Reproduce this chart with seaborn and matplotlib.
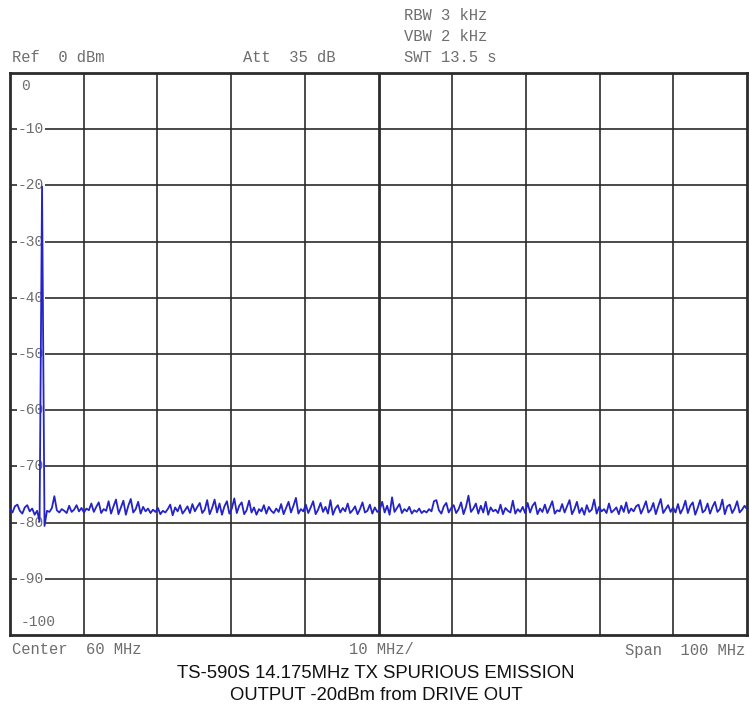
import numpy as np
import pandas as pd
import matplotlib
matplotlib.use("Agg")
import matplotlib.pyplot as plt
import seaborn as sns

# ---- data ----
f_start, f_stop = 10.0, 110.0          # MHz (center 60, span 100)
y_ticks = [0, -10, -20, -30, -40, -50, -60, -70, -80, -90, -100]
y_tick_labels = ["0", "-10", "-20", "-30", "-40", "-50", "-60", "-70", "-80", "-90", "-100"]

level_dbm = [
    -77.6, -78.2, -77.1, -76.8, -77.9, -78.4, -77.3, -76.9, -78.0, -77.5, -78.6, -77.9, -79.8, -20.2, -80.6,
    -77.9, -78.1, -77.4, -75.3, -77.8, -78.2, -77.6, -77.9, -78.3, -77.0, -78.1, -77.7, -76.9, -78.0, -77.4,
    -78.2, -77.5, -77.8, -76.6, -78.1, -77.2, -76.4, -78.3, -77.6, -77.9, -76.2, -78.4, -77.1, -75.9, -78.5,
    -77.3, -76.1, -78.6, -77.0, -75.8, -78.2, -77.6, -76.3, -78.4, -77.2, -78.0, -77.5, -78.3, -77.7, -78.1,
    -77.4, -78.5, -77.9, -78.2, -77.6, -76.8, -78.7, -77.3, -78.0, -76.9, -78.4, -77.8, -77.1, -78.3, -76.7,
    -78.0, -77.2, -76.5, -78.3, -77.7, -76.0, -78.5, -77.4, -75.9, -78.2, -76.6, -78.6, -77.1, -76.2, -78.4,
    -77.5, -75.7, -78.3, -77.0, -76.4, -78.5, -77.8, -76.1, -78.2, -77.3, -78.6, -77.6, -78.0, -76.9, -78.4,
    -77.2, -77.9, -78.3, -77.5, -78.1, -76.7, -78.5, -77.4, -76.3, -78.2, -77.0, -75.6, -78.4, -77.6, -78.0,
    -76.8, -78.3, -77.3, -76.2, -78.5, -77.7, -76.5, -78.1, -77.2, -78.4, -76.0, -78.6, -77.5, -76.9, -78.2,
    -77.4, -78.0, -76.6, -78.3, -77.8, -77.1, -78.5, -77.6, -76.4, -78.2, -77.9, -76.8, -78.4, -77.3, -78.1,
    -77.7, -76.3, -78.2, -77.0, -78.6, -75.5, -78.1, -77.4, -76.7, -78.3, -77.6, -78.0, -77.2, -78.4, -77.8,
    -78.1, -77.5, -78.3, -77.9, -78.2, -77.6, -78.0, -76.2, -76.0, -77.8, -78.4, -77.1, -76.5, -78.2, -77.4,
    -76.9, -78.3, -77.6, -76.4, -78.5, -77.2, -75.2, -78.1, -77.5, -76.6, -78.4, -77.0, -78.2, -76.3, -78.6,
    -77.3, -78.0, -77.7, -78.3, -76.8, -78.5, -77.4, -77.9, -78.2, -76.1, -78.4, -77.6, -78.1, -77.2, -78.3,
    -76.5, -78.2, -77.0, -76.4, -78.5, -77.5, -78.1, -76.8, -78.3, -77.3, -76.2, -78.4, -77.8, -78.0, -76.7,
    -78.2, -77.1, -76.0, -78.5, -77.6, -76.3, -78.3, -77.4, -78.6, -76.9, -78.1, -77.7, -75.9, -78.4, -77.2,
    -78.0, -77.6, -78.3, -76.6, -78.2, -77.8, -77.3, -78.5, -77.0, -78.1, -76.4, -78.3, -77.5, -78.0, -77.1,
    -76.8, -78.4, -77.4, -76.2, -78.2, -77.7, -76.5, -78.5, -77.1, -75.8, -78.3, -77.6, -76.9, -78.1, -77.3,
    -78.2, -76.7, -78.4, -77.5, -76.1, -78.3, -77.0, -76.4, -78.6, -77.4, -76.0, -78.2, -77.8, -76.6, -78.4,
    -77.2, -76.3, -78.1, -77.6, -75.9, -78.5, -77.1, -76.8, -78.3, -77.5, -76.2, -78.2, -77.7, -77.0, -77.6,
]

header_left = ["Ref  0 dBm", "Att  35 dB"]
header_right = ["RBW 3 kHz", "VBW 2 kHz", "SWT 13.5 s"]
footer = ["Center  60 MHz", "10 MHz/", "Span  100 MHz"]
title_lines = ["TS-590S 14.175MHz TX SPURIOUS EMISSION", "OUTPUT -20dBm from DRIVE OUT"]

# ---- figure ----
sns.set_style("white")
plt.rcParams["font.family"] = ["DejaVu Sans"]

fig = plt.figure(figsize=(7.5, 7.08), dpi=100)
ax = fig.add_axes([10 / 750, 1 - 635 / 708, 737 / 750, 562 / 708])

freq = np.linspace(f_start, f_stop, len(level_dbm))
df = pd.DataFrame({"freq": freq, "level": level_dbm})
sns.lineplot(data=df, x="freq", y="level", ax=ax, color="#2323c8", linewidth=1.3,
             zorder=5, estimator=None, sort=False)

ax.set_xlim(f_start, f_stop)
ax.set_ylim(-100, 0)
ax.set_xticks([])
ax.set_yticks([])
ax.set_xlabel("")
ax.set_ylabel("")

gridc = "#2b2b2b"
xs = np.arange(f_start + 10, f_stop, 10)
for x in xs:
    lw = 2.0 if x == 60 else 1.2
    ax.axvline(x, color=gridc, lw=lw, zorder=1)
for y in y_ticks[1:-1]:
    ax.axhline(y, color=gridc, lw=1.2, zorder=1)
for s in ax.spines.values():
    s.set_color(gridc)
    s.set_linewidth(2.0)
    s.set_visible(True)

mono = "Liberation Mono"
grey = "#6e6e6e"
fs_small = 10.5
fs_mono = 11.2
for yv, lab in zip(y_ticks, y_tick_labels):
    if yv == 0:
        ax.text(11 / 737, 1 - 13 / 562, lab, transform=ax.transAxes, family=mono, fontsize=fs_small,
                color=grey, ha="left", va="center", zorder=3)
    elif yv == -100:
        ax.text(11 / 737, 13 / 562, lab, transform=ax.transAxes, family=mono, fontsize=fs_small,
                color=grey, ha="left", va="center", zorder=3)
    else:
        ax.text(8 / 737, yv, lab, transform=ax.get_yaxis_transform(), family=mono, fontsize=fs_small,
                color=grey, ha="left", va="center", zorder=3,
                bbox=dict(facecolor="white", edgecolor="none", pad=0.8))

fig.text(12 / 750, 1 - 57 / 708, header_left[0], family=mono, fontsize=fs_mono, color=grey, ha="left", va="center")
fig.text(243 / 750, 1 - 57 / 708, header_left[1], family=mono, fontsize=fs_mono, color=grey, ha="left", va="center")
for i, t in enumerate(header_right):
    fig.text(404 / 750, 1 - (16 + 20.5 * i) / 708, t, family=mono, fontsize=fs_mono, color=grey,
             ha="left", va="center")

fig.text(12 / 750, 1 - 650 / 708, footer[0], family=mono, fontsize=fs_mono, color=grey, ha="left", va="center")
fig.text(381 / 750, 1 - 650 / 708, footer[1], family=mono, fontsize=fs_mono, color=grey, ha="center", va="center")
fig.text(745 / 750, 1 - 650 / 708, footer[2], family=mono, fontsize=fs_mono, color=grey, ha="right", va="center")

fig.text(376 / 750, 1 - 673 / 708, title_lines[0], family="Liberation Sans", fontsize=13.3,
         color="#111111", ha="center", va="center")
fig.text(376 / 750, 1 - 695 / 708, title_lines[1], family="Liberation Sans", fontsize=13.3,
         color="#111111", ha="center", va="center")

fig.savefig("out.png", dpi=100, facecolor="white")
